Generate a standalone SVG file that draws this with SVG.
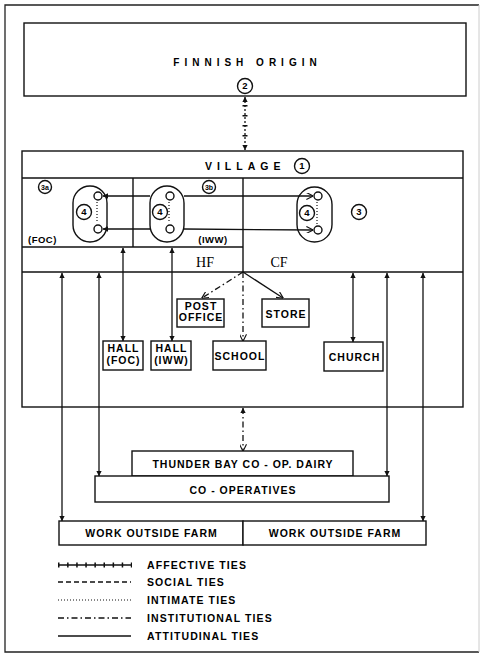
<svg xmlns="http://www.w3.org/2000/svg" width="481" height="654" viewBox="0 0 481 654">
<defs>
<marker id="ah" viewBox="0 0 10 10" refX="9.5" refY="5" markerWidth="6" markerHeight="5.5" markerUnits="userSpaceOnUse" orient="auto-start-reverse"><path d="M0,0 L10,5 L0,10 z" fill="#111"/></marker>
<marker id="ao" viewBox="0 0 10 10" refX="9.5" refY="5" markerWidth="7" markerHeight="7" markerUnits="userSpaceOnUse" orient="auto-start-reverse"><path d="M0,0 L10,5 L0,10" fill="none" stroke="#111" stroke-width="1.6"/></marker>
<style>
.box{fill:#fff;stroke:#111;stroke-width:1.4}
.ln{stroke:#111;stroke-width:1.4;fill:none}
.sm{fill:#fff;stroke:#111;stroke-width:1.4}
.att{stroke:#111;stroke-width:1.3;fill:none}
.soc{stroke:#111;stroke-width:1.3;fill:none;stroke-dasharray:5 3}
.int{stroke:#111;stroke-width:1.2;fill:none;stroke-dasharray:1 2}
.ins{stroke:#111;stroke-width:1.3;fill:none;stroke-dasharray:6 3 1.5 3}
.tick{stroke:#111;stroke-width:5;fill:none}
text{font-family:"Liberation Sans",Arial,sans-serif;font-weight:bold;fill:#000}
.t{font-size:10.5px;letter-spacing:1px;text-anchor:middle}
.n{font-size:9.5px;text-anchor:middle}
.lg{font-size:10.5px;letter-spacing:1.1px}
.serif{font-family:"Liberation Serif","Times New Roman",serif;font-weight:normal;font-size:14px;text-anchor:middle}
</style>
</defs>
<rect width="481" height="654" fill="#fff"/>
<g id="frame">
<path d="M479,5 L5,5 L5,652 L479,652" fill="none" stroke="#222" stroke-width="1.3"/>
<line x1="479" y1="5" x2="479" y2="652" stroke="#ccc" stroke-width="1"/>
</g>

<g id="finnish-origin">
<rect class="box" x="24" y="23" width="442" height="73"/>
<text x="247.5" y="65.5" style="font-size:10px;letter-spacing:5px;text-anchor:middle">FINNISH ORIGIN</text>
<circle class="sm" cx="245" cy="86" r="7.5"/>
<text class="n" x="245" y="89.4">2</text>
</g>

<g id="village">
<rect class="box" x="22" y="151" width="441" height="256"/>
<line class="ln" x1="22" y1="178" x2="463" y2="178"/>
<text x="245.2" y="169.8" style="font-size:10.5px;letter-spacing:5px;text-anchor:middle">VILLAGE</text>
<circle class="sm" cx="302" cy="166" r="7.5"/>
<text class="n" x="302" y="169.4">1</text>
<line class="ln" x1="133" y1="178" x2="133" y2="247"/>
<line class="ln" x1="22" y1="247" x2="243" y2="247"/>
<line class="ln" x1="243" y1="178" x2="243" y2="272"/>
<line class="ln" x1="22" y1="272" x2="463" y2="272"/>
<text class="serif" x="205" y="267">HF</text>
<text class="serif" x="279" y="267">CF</text>
</g>

<g id="foc-region">
<circle class="sm" cx="45" cy="187" r="6.5"/>
<text x="45" y="189.5" style="font-size:7px;text-anchor:middle">3a</text>
<text x="28" y="243" style="font-size:9.5px;letter-spacing:0.5px">(FOC)</text>
</g>
<g id="iww-region">
<circle class="sm" cx="209" cy="187" r="6.5"/>
<text x="209" y="189.5" style="font-size:7px;text-anchor:middle">3b</text>
<text x="213" y="243" style="font-size:9.5px;letter-spacing:0.5px;text-anchor:middle">(IWW)</text>
</g>
<g id="cf-region">
<circle class="sm" cx="359" cy="212" r="7.5"/>
<text class="n" x="359" y="215.4">3</text>
</g>

<g id="foc-family">
<rect class="box" x="73" y="186" width="34" height="56" rx="17"/>
<line class="int" x1="97" y1="202" x2="97" y2="223"/>
<circle class="sm" cx="98" cy="196" r="4"/>
<circle class="sm" cx="98" cy="229" r="4"/>
<circle class="sm" cx="84" cy="212" r="7.5"/>
<text class="n" x="84" y="215.4">4</text>
</g>
<g id="iww-family">
<rect class="box" x="150" y="186" width="34" height="56" rx="17"/>
<line class="int" x1="169" y1="202" x2="169" y2="223"/>
<circle class="sm" cx="170" cy="196" r="4"/>
<circle class="sm" cx="170" cy="229" r="4"/>
<circle class="sm" cx="160" cy="212" r="7.5"/>
<text class="n" x="160" y="215.4">4</text>
</g>
<g id="cf-family">
<rect class="box" x="297" y="187" width="35" height="55" rx="17.5"/>
<line class="int" x1="317" y1="202" x2="317" y2="224"/>
<circle class="sm" cx="318" cy="196" r="4"/>
<circle class="sm" cx="318" cy="230" r="4"/>
<circle class="sm" cx="307" cy="213" r="7.5"/>
<text class="n" x="307" y="216.4">4</text>
</g>

<g id="post-office">
<rect class="box" x="177" y="299" width="47" height="28"/>
<text class="t" x="201" y="309.5">POST</text>
<text class="t" x="201" y="321">OFFICE</text>
</g>
<g id="store">
<rect class="box" x="262" y="299" width="47" height="28"/>
<text class="t" x="286" y="317.5">STORE</text>
</g>
<g id="hall-foc">
<rect class="box" x="103" y="341" width="40" height="29"/>
<text class="t" x="123.5" y="352">HALL</text>
<text class="t" x="123.5" y="364">(FOC)</text>
</g>
<g id="hall-iww">
<rect class="box" x="151" y="341" width="40" height="29"/>
<text class="t" x="171.5" y="352">HALL</text>
<text class="t" x="171.5" y="364">(IWW)</text>
</g>
<g id="school">
<rect class="box" x="213" y="341" width="53" height="29"/>
<text class="t" x="240" y="359.5">SCHOOL</text>
</g>
<g id="church">
<rect class="box" x="324" y="342" width="59" height="29"/>
<text class="t" x="354.5" y="360.5">CHURCH</text>
</g>

<g id="dairy">
<rect class="box" x="132" y="451" width="221" height="25"/>
<text class="t" x="243" y="467.5">THUNDER BAY CO - OP. DAIRY</text>
</g>
<g id="cooperatives">
<rect class="box" x="95" y="476" width="294" height="26"/>
<text class="t" x="243" y="493.5">CO - OPERATIVES</text>
</g>
<g id="work-outside-farm-hf">
<rect class="box" x="59" y="521" width="184" height="24"/>
<text class="t" x="151.5" y="537">WORK OUTSIDE FARM</text>
</g>
<g id="work-outside-farm-cf">
<rect class="box" x="243" y="521" width="183" height="24"/>
<text class="t" x="335" y="537">WORK OUTSIDE FARM</text>
</g>

<g id="connectors">
<line class="att" x1="245" y1="97" x2="245" y2="150" stroke-dasharray="2 2" marker-start="url(#ah)" marker-end="url(#ah)"/>
<line class="tick" x1="245" y1="105" x2="245" y2="145" stroke-dasharray="1.5 8.5"/>
<line class="att" x1="150" y1="196" x2="103" y2="196" marker-end="url(#ah)"/>
<line class="att" x1="184" y1="196" x2="313" y2="196" marker-end="url(#ao)"/>
<line class="att" x1="150" y1="229" x2="103" y2="229" marker-end="url(#ah)"/>
<line class="att" x1="184" y1="229" x2="313" y2="230" marker-end="url(#ao)"/>
<line class="ins" x1="243" y1="272" x2="202" y2="298" marker-end="url(#ao)"/>
<line class="att" x1="243" y1="272" x2="283" y2="298" marker-end="url(#ao)"/>
<line class="ins" x1="243" y1="272" x2="243" y2="341" marker-end="url(#ao)"/>
<line class="att" x1="123" y1="248" x2="123" y2="341" marker-start="url(#ah)" marker-end="url(#ah)"/>
<line class="att" x1="172" y1="248" x2="172" y2="341" marker-start="url(#ah)" marker-end="url(#ah)"/>
<line class="att" x1="353" y1="273" x2="353" y2="342" marker-start="url(#ah)" marker-end="url(#ah)"/>
<line class="att" x1="62" y1="273" x2="62" y2="521" marker-start="url(#ah)" marker-end="url(#ah)"/>
<line class="att" x1="99" y1="273" x2="99" y2="476" marker-start="url(#ah)" marker-end="url(#ah)"/>
<line class="att" x1="387" y1="273" x2="387" y2="476" marker-start="url(#ah)" marker-end="url(#ah)"/>
<line class="att" x1="423" y1="273" x2="423" y2="521" marker-start="url(#ah)" marker-end="url(#ah)"/>
<line class="ins" x1="243" y1="408" x2="243" y2="451" marker-start="url(#ah)" marker-end="url(#ao)"/>
</g>

<g id="legend">
<line class="att" x1="58" y1="565" x2="131" y2="565" stroke-width="0.8"/>
<line class="tick" x1="58" y1="565" x2="132" y2="565" stroke-dasharray="1.5 7.6"/>
<text class="lg" x="147" y="569">AFFECTIVE TIES</text>
<line class="soc" x1="58" y1="582" x2="131" y2="582"/>
<text class="lg" x="147" y="586">SOCIAL TIES</text>
<line class="int" x1="58" y1="600" x2="131" y2="600"/>
<text class="lg" x="147" y="604">INTIMATE TIES</text>
<line class="ins" x1="58" y1="618" x2="131" y2="618"/>
<text class="lg" x="147" y="622">INSTITUTIONAL TIES</text>
<line class="att" x1="58" y1="636" x2="131" y2="636"/>
<text class="lg" x="147" y="640">ATTITUDINAL TIES</text>
</g>
</svg>
